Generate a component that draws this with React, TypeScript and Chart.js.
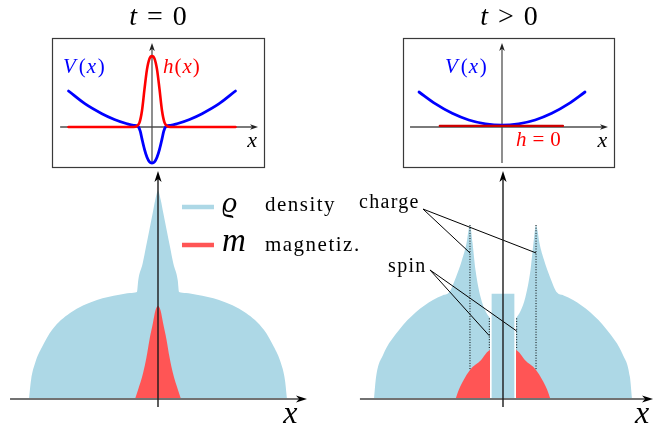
import React, { useEffect, useRef, useState } from "react";
import { Chart, registerables } from "chart.js";
Chart.register(...registerables);

// ---------------- DATA ----------------
// Inset, t = 0: trap potential V(x) with a dip, and localized field h(x)
const v0X = [-1, -0.8, -0.6, -0.45, -0.3, -0.22, -0.17, -0.14, -0.12, -0.09, -0.06, -0.03, 0, 0.03, 0.06, 0.09, 0.12, 0.14, 0.17, 0.22, 0.3, 0.45, 0.6, 0.8, 1];
const v0Y = [1.0, 0.64, 0.37, 0.21, 0.09, 0.045, 0.02, -0.12, -0.33, -0.62, -0.84, -0.97, -1.0, -0.97, -0.84, -0.62, -0.33, -0.12, 0.02, 0.045, 0.09, 0.21, 0.37, 0.64, 1.0];
const h0X = [-1, -0.22, -0.18, -0.15, -0.12, -0.09, -0.06, -0.03, 0, 0.03, 0.06, 0.09, 0.12, 0.15, 0.18, 0.22, 1];
const h0Y = [0, 0, 0.03, 0.12, 0.45, 1.05, 1.6, 1.9, 1.97, 1.9, 1.6, 1.05, 0.45, 0.12, 0.03, 0, 0];

// Inset, t > 0: plain trap, h = 0
const v1X = [-1, -0.8, -0.6, -0.4, -0.2, 0, 0.2, 0.4, 0.6, 0.8, 1];
const v1Y = [1.0, 0.66, 0.39, 0.2, 0.09, 0.05, 0.09, 0.2, 0.39, 0.66, 1.0];
const h1X = [-0.75, 0.735];
const h1Y = [0.03, 0.03];

// Main, t = 0: density and magnetization
const rho0X = [-1, -0.984, -0.95, -0.899, -0.822, -0.682, -0.473, -0.3, -0.217, -0.163, -0.153, -0.119, -0.093, -0.067, -0.041, -0.021, 0, 0.021, 0.041, 0.067, 0.093, 0.119, 0.153, 0.163, 0.217, 0.3, 0.473, 0.682, 0.822, 0.899, 0.95, 0.984, 1];
const rho0Y = [0, 0.17, 0.33, 0.464, 0.616, 0.768, 0.884, 0.93, 0.946, 0.955, 1.06, 1.21, 1.36, 1.51, 1.66, 1.78, 1.857, 1.78, 1.66, 1.51, 1.36, 1.21, 1.06, 0.955, 0.946, 0.93, 0.884, 0.768, 0.616, 0.464, 0.33, 0.17, 0];
const m0X = [-0.178, -0.155, -0.116, -0.089, -0.066, -0.039, -0.02, 0, 0.02, 0.039, 0.066, 0.089, 0.116, 0.155, 0.178];
const m0Y = [0, 0.08, 0.23, 0.375, 0.53, 0.68, 0.79, 0.83, 0.79, 0.68, 0.53, 0.375, 0.23, 0.08, 0];

// Main, t > 0: density split in outer-left, core, outer-right; magnetization in two lobes
const rhoLX = [-1, -0.984, -0.93, -0.806, -0.674, -0.543, -0.47, -0.419, -0.364, -0.318, -0.283, -0.268, -0.256, -0.236, -0.213, -0.174, -0.136, -0.1];
const rhoLY = [0, 0.196, 0.393, 0.616, 0.777, 0.884, 0.925, 0.95, 1.09, 1.24, 1.39, 1.5, 1.553, 1.39, 1.15, 0.91, 0.785, 0.72];
const rhoCX = [-0.09, 0.09];
const rhoCY = [0.94, 0.94];
const rhoRX = [0.1, 0.136, 0.174, 0.213, 0.236, 0.256, 0.268, 0.283, 0.318, 0.364, 0.419, 0.47, 0.543, 0.674, 0.806, 0.93, 0.984, 1];
const rhoRY = [0.72, 0.785, 0.91, 1.15, 1.39, 1.553, 1.5, 1.39, 1.24, 1.09, 0.95, 0.925, 0.884, 0.777, 0.616, 0.393, 0.196, 0];
const mLX = [-0.368, -0.34, -0.305, -0.256, -0.168, -0.126, -0.1];
const mLY = [0, 0.09, 0.17, 0.26, 0.35, 0.415, 0.44];
const mRX = [0.1, 0.126, 0.168, 0.256, 0.305, 0.34, 0.368];
const mRY = [0.44, 0.415, 0.35, 0.26, 0.17, 0.09, 0];

// dotted guides (x, top, bottom)
const guideX = [-0.256, -0.106, 0.106, 0.256];
const guideTop = [1.553, 0.72, 0.72, 1.553];
const guideBottom = [0.26, 0.44, 0.44, 0.26];
// callout lines: label anchor -> targets
const chargeFrom = [-0.62, 1.696];
const chargeToX = [-0.256, 0.256];
const chargeToY = [1.304, 1.304];
const spinFrom = [-0.566, 1.152];
const spinToX = [-0.106, 0.106];
const spinToY = [0.565, 0.607];

// ---------------- STYLE / LAYOUT ----------------
const BLUE = "#0000ff";
const RED = "#ff0000";
const RHO = "#add8e6";
const MAG = "#ff5555";
const FAM = "'Liberation Serif', 'Times New Roman', serif";
const ASC = 0.8375; // baseline offset (em) for Liberation Serif with line-height 1

type Pt = { x: number; y: number };
const pts = (xs: number[], ys: number[]): Pt[] => xs.map((x, i) => ({ x, y: ys[i] }));

interface Frame {
  left: number; top: number; width: number; height: number;
  pad: [number, number, number, number]; // left, top, right, bottom
  axisX: number; axisY: number; kx: number; ky: number;
}
const F_INSET_L: Frame = { left: 0, top: 0, width: 327, height: 172, pad: [52, 38, 62, 4], axisX: 152, axisY: 127, kx: 83.5, ky: 36 };
const F_INSET_R: Frame = { left: 327, top: 0, width: 327, height: 172, pad: [76, 38, 39, 4], axisX: 502, axisY: 127, kx: 83, ky: 35 };
const F_MAIN_L: Frame = { left: 0, top: 160, width: 380, height: 270, pad: [0, 0, 0, 0], axisX: 158, axisY: 399, kx: 129, ky: 112 };
const F_MAIN_R: Frame = { left: 327, top: 160, width: 327, height: 270, pad: [0, 0, 0, 0], axisX: 503, axisY: 399, kx: 129, ky: 112 };

type Seg = { t: string; it?: boolean; g?: number };
interface TextSpec { segs: Seg[]; x: number; y: number; size: number; align: "left" | "center"; color: string; sp?: number }
interface AxisSpec { from: [number, number]; to: [number, number]; color: string; width: number; head: string; L: number; W: number }
interface BarSpec { x1: number; x2: number; y: number; color: string; width: number }
interface Deco { under?: AxisSpec[]; over?: AxisSpec[]; bars?: BarSpec[]; box?: boolean }
interface Placed { spec: TextSpec; px: number; py: number }

function drawAxis(ctx: CanvasRenderingContext2D, chart: any, a: AxisSpec) {
  const sx = chart.scales.x, sy = chart.scales.y;
  const x1 = sx.getPixelForValue(a.from[0]), y1 = sy.getPixelForValue(a.from[1]);
  const x2 = sx.getPixelForValue(a.to[0]), y2 = sy.getPixelForValue(a.to[1]);
  const ang = Math.atan2(y2 - y1, x2 - x1);
  const back = a.L * 0.6;
  ctx.save();
  ctx.strokeStyle = a.color;
  ctx.lineWidth = a.width;
  ctx.beginPath();
  ctx.moveTo(x1, y1);
  ctx.lineTo(x2 - Math.cos(ang) * back, y2 - Math.sin(ang) * back);
  ctx.stroke();
  ctx.translate(x2, y2);
  ctx.rotate(ang);
  ctx.fillStyle = a.head;
  ctx.beginPath();
  ctx.moveTo(0, 0);
  ctx.lineTo(-a.L, -a.W);
  ctx.lineTo(-a.L * 0.72, 0);
  ctx.lineTo(-a.L, a.W);
  ctx.closePath();
  ctx.fill();
  ctx.restore();
}

function build(canvas: HTMLCanvasElement, f: Frame, datasets: any[], deco: Deco) {
  const aL = f.left + f.pad[0], aR = f.left + f.width - f.pad[2];
  const aT = f.top + f.pad[1], aB = f.top + f.height - f.pad[3];
  const xmin = (aL - f.axisX) / f.kx, xmax = (aR - f.axisX) / f.kx;
  const ymax = (f.axisY - aT) / f.ky, ymin = (f.axisY - aB) / f.ky;
  const plugin = {
    id: "deco",
    beforeDatasetsDraw(chart: any) {
      (deco.under || []).forEach((a) => drawAxis(chart.ctx, chart, a));
    },
    afterDatasetsDraw(chart: any) {
      const ctx = chart.ctx as CanvasRenderingContext2D;
      const sx = chart.scales.x, sy = chart.scales.y;
      (deco.over || []).forEach((a) => drawAxis(ctx, chart, a));
      (deco.bars || []).forEach((b) => {
        ctx.save();
        ctx.strokeStyle = b.color;
        ctx.lineWidth = b.width;
        ctx.beginPath();
        ctx.moveTo(sx.getPixelForValue(b.x1), sy.getPixelForValue(b.y));
        ctx.lineTo(sx.getPixelForValue(b.x2), sy.getPixelForValue(b.y));
        ctx.stroke();
        ctx.restore();
      });
      if (deco.box) {
        const ca = chart.chartArea;
        ctx.save();
        ctx.strokeStyle = "#3a3a3a";
        ctx.lineWidth = 1.2;
        ctx.strokeRect(ca.left + 0.5, ca.top + 0.5, ca.right - ca.left - 1, ca.bottom - ca.top - 1);
        ctx.restore();
      }
    },
  };
  return new Chart(canvas, {
    type: "line",
    data: { datasets },
    options: {
      animation: false,
      responsive: false,
      events: [],
      layout: { padding: { left: f.pad[0], top: f.pad[1], right: f.pad[2], bottom: f.pad[3] } },
      scales: {
        x: { type: "linear", display: false, min: xmin, max: xmax, bounds: "data" },
        y: { type: "linear", display: false, min: ymin, max: ymax, bounds: "data" },
      },
      plugins: { legend: { display: false }, tooltip: { enabled: false } },
      elements: { point: { radius: 0 } },
    } as any,
    plugins: [plugin as any],
  });
}

const area = (data: Pt[], color: string, order: number) => ({
  data, borderWidth: 0, borderColor: "rgba(0,0,0,0)", backgroundColor: color, fill: "origin",
  pointRadius: 0, cubicInterpolationMode: "monotone", order,
});
const curve = (data: Pt[], color: string, width: number, order: number) => ({
  data, borderColor: color, borderWidth: width, fill: false, pointRadius: 0,
  cubicInterpolationMode: "monotone", order, borderCapStyle: "round", borderJoinStyle: "round",
});
const segLine = (data: Pt[], dash: number[]) => ({
  data, borderColor: "#000", borderWidth: 1, fill: false, pointRadius: 0, tension: 0, borderDash: dash, order: 0,
});

const hAxisInset = (from: number, to: number): AxisSpec => ({ from: [from, 0], to: [to, 0], color: "#7a7a7a", width: 2, head: "#222", L: 8, W: 2.8 });
const vAxisInset = (from: number, to: number): AxisSpec => ({ from: [0, from], to: [0, to], color: "#444", width: 1.2, head: "#222", L: 8, W: 2.8 });
const hAxisMain = (from: number, to: number): AxisSpec => ({ from: [from, 0], to: [to, 0], color: "#727272", width: 2, head: "#000", L: 11, W: 3.6 });
const vAxisMain = (from: number, to: number): AxisSpec => ({ from: [0, from], to: [0, to], color: "#1a1a1a", width: 1.4, head: "#000", L: 11, W: 3.6 });

// text specs, positioned in each panel's data units
const TXT_INSET_L: TextSpec[] = [
  { segs: [{ t: "t", it: true, g: 10 }, { t: "=", g: 10 }, { t: "0" }], x: 0.072, y: 2.833, size: 28, align: "center", color: "#000" },
  { segs: [{ t: "V", it: true, g: 3 }, { t: "(", g: 1 }, { t: "x", it: true, g: 1.5 }, { t: ")" }], x: -1.066, y: 1.486, size: 21, align: "left", color: BLUE },
  { segs: [{ t: "h", it: true, g: 1 }, { t: "(", g: 1 }, { t: "x", it: true, g: 1 }, { t: ")" }], x: 0.132, y: 1.486, size: 21, align: "left", color: RED },
  { segs: [{ t: "x", it: true }], x: 1.2, y: -0.556, size: 22, align: "center", color: "#000" },
];
const TXT_INSET_R: TextSpec[] = [
  { segs: [{ t: "t", it: true, g: 10 }, { t: ">", g: 10 }, { t: "0" }], x: 0.084, y: 2.914, size: 28, align: "center", color: "#000" },
  { segs: [{ t: "V", it: true, g: 3 }, { t: "(", g: 1 }, { t: "x", it: true, g: 1.5 }, { t: ")" }], x: -0.687, y: 1.529, size: 21, align: "left", color: BLUE },
  { segs: [{ t: "h", it: true, g: 6 }, { t: "=", g: 6 }, { t: "0" }], x: 0.169, y: -0.563, size: 21, align: "left", color: RED },
  { segs: [{ t: "x", it: true }], x: 1.21, y: -0.571, size: 22, align: "center", color: "#000" },
];
const TXT_MAIN_L: TextSpec[] = [
  { segs: [{ t: "x", it: true }], x: 1.027, y: -0.214, size: 32, align: "center", color: "#000" },
  { segs: [{ t: "ϱ", it: true }], x: 0.496, y: 1.67, size: 30, align: "left", color: "#000" },
  { segs: [{ t: "m", it: true }], x: 0.496, y: 1.3125, size: 33, align: "left", color: "#000" },
  { segs: [{ t: "density" }], x: 0.829, y: 1.67, size: 21, align: "left", color: "#000", sp: 1.5 },
  { segs: [{ t: "magnetiz." }], x: 0.829, y: 1.3125, size: 21, align: "left", color: "#000", sp: 1.5 },
];
const TXT_MAIN_R: TextSpec[] = [
  { segs: [{ t: "x", it: true }], x: 1.078, y: -0.214, size: 32, align: "center", color: "#000" },
  { segs: [{ t: "charge" }], x: -1.116, y: 1.705, size: 20, align: "left", color: "#000", sp: 1.3 },
  { segs: [{ t: "spin" }], x: -0.891, y: 1.134, size: 20, align: "left", color: "#000", sp: 1.3 },
];

function Label({ p }: { p: Placed }) {
  const s = p.spec;
  return (
    <div style={{
      position: "absolute", left: p.px, top: p.py - ASC * s.size, whiteSpace: "nowrap",
      fontFamily: FAM, fontSize: s.size, lineHeight: 1, color: s.color,
      letterSpacing: s.sp ? s.sp : 0,
      transform: s.align === "center" ? "translateX(-50%)" : undefined,
    }}>
      {s.segs.map((g, i) => (
        <span key={i} style={{ fontStyle: g.it ? "italic" : "normal", marginRight: g.g || 0 }}>{g.t}</span>
      ))}
    </div>
  );
}

export default function App() {
  const c1 = useRef<HTMLCanvasElement>(null);
  const c2 = useRef<HTMLCanvasElement>(null);
  const c3 = useRef<HTMLCanvasElement>(null);
  const c4 = useRef<HTMLCanvasElement>(null);
  const [labels, setLabels] = useState<Placed[]>([]);

  useEffect(() => {
    const charts: Chart[] = [];
    const placed: Placed[] = [];
    const place = (chart: any, f: Frame, specs: TextSpec[]) => {
      specs.forEach((spec) => placed.push({
        spec,
        px: f.left + chart.scales.x.getPixelForValue(spec.x),
        py: f.top + chart.scales.y.getPixelForValue(spec.y),
      }));
    };
    // inset t = 0
    const a = build(c1.current!, F_INSET_L, [
      curve(pts(v0X, v0Y), BLUE, 2.8, 2),
      curve(pts(h0X, h0Y), RED, 2.6, 1),
    ], { box: true, under: [hAxisInset(-1.1, 1.27), vAxisInset(-1.0, 2.33)] });
    charts.push(a); place(a, F_INSET_L, TXT_INSET_L);
    // inset t > 0
    const b = build(c2.current!, F_INSET_R, [
      curve(pts(v1X, v1Y), BLUE, 2.8, 2),
      curve(pts(h1X, h1Y), "#cc0000", 2.2, 1),
    ], { box: true, under: [hAxisInset(-1.108, 1.277), vAxisInset(-1.03, 2.4)] });
    charts.push(b); place(b, F_INSET_R, TXT_INSET_R);
    // main t = 0
    const c = build(c3.current!, F_MAIN_L, [
      area(pts(rho0X, rho0Y), RHO, 3),
      area(pts(m0X, m0Y), MAG, 2),
    ], {
      over: [hAxisMain(-1.147, 1.155), vAxisMain(-0.071, 2.036)],
      bars: [
        { x1: 0.186, x2: 0.434, y: 1.714, color: RHO, width: 4.5 },
        { x1: 0.186, x2: 0.434, y: 1.375, color: MAG, width: 4.5 },
      ],
    });
    charts.push(c); place(c, F_MAIN_L, TXT_MAIN_L);
    // main t > 0
    const guides = guideX.map((gx, i) => segLine(pts([gx, gx], [guideTop[i], guideBottom[i]]), [1, 1.6]));
    const charge = chargeToX.map((tx, i) => segLine(pts([chargeFrom[0], tx], [chargeFrom[1], chargeToY[i]]), []));
    const spin = spinToX.map((tx, i) => segLine(pts([spinFrom[0], tx], [spinFrom[1], spinToY[i]]), []));
    const d = build(c4.current!, F_MAIN_R, [
      area(pts(rhoLX, rhoLY), RHO, 3),
      area(pts(rhoCX, rhoCY), RHO, 3),
      area(pts(rhoRX, rhoRY), RHO, 3),
      area(pts(mLX, mLY), MAG, 2),
      area(pts(mRX, mRY), MAG, 2),
      ...guides, ...charge, ...spin,
    ], { over: [hAxisMain(-1.109, 1.163), vAxisMain(-0.071, 2.036)] });
    charts.push(d); place(d, F_MAIN_R, TXT_MAIN_R);
    setLabels(placed);
    return () => charts.forEach((ch) => ch.destroy());
  }, []);

  const cv = (ref: React.RefObject<HTMLCanvasElement>, f: Frame) => (
    <canvas ref={ref} width={f.width} height={f.height}
      style={{ position: "absolute", left: f.left, top: f.top, width: f.width, height: f.height }} />
  );

  return (
    <div style={{ position: "absolute", left: 0, top: 0, width: 654, height: 430, background: "#fff", overflow: "hidden" }}>
      {cv(c4, F_MAIN_R)}
      {cv(c3, F_MAIN_L)}
      {cv(c2, F_INSET_R)}
      {cv(c1, F_INSET_L)}
      {labels.map((p, i) => <Label key={i} p={p} />)}
    </div>
  );
}
